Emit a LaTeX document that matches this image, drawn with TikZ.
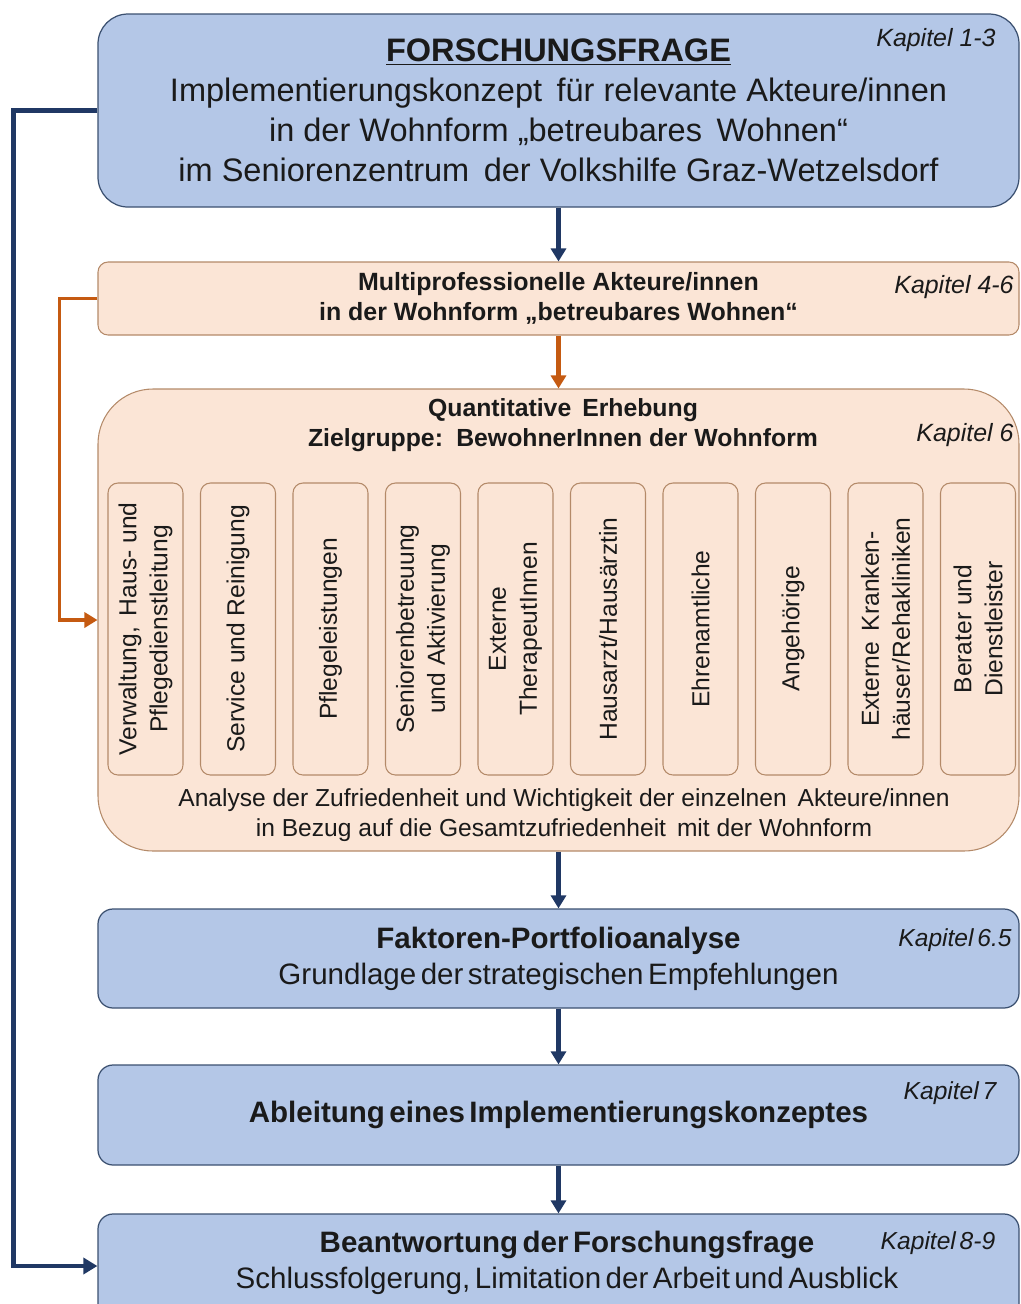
\documentclass[tikz,border=0pt]{standalone}
\usepackage{fontspec}
\setmainfont{Liberation Sans}
\newfontfamily\tightfont[WordSpace=0.55]{Liberation Sans}
\usetikzlibrary{arrows.meta,positioning}
\definecolor{boxblue}{HTML}{B4C7E7}
\definecolor{lineblue}{HTML}{3B5070}
\definecolor{navy}{HTML}{203864}
\definecolor{boxorange}{HTML}{FBE5D6}
\definecolor{lineorange}{HTML}{B48A69}
\definecolor{rust}{HTML}{C55A11}
\definecolor{ink}{HTML}{1A1A1A}

\begin{document}
\begin{tikzpicture}[
  bluebox/.style={draw=lineblue,fill=boxblue,line width=0.7pt,rounded corners=0.3cm,minimum width=18.42cm,text=ink,align=center},
  orangebox/.style={draw=lineorange,fill=boxorange,line width=0.6pt,minimum width=18.42cm,text=ink,align=center},
  akteur/.style={draw=lineorange,line width=0.6pt,rounded corners=0.2cm,rotate=90,minimum width=5.84cm,minimum height=1.5cm,text=ink,align=center,font=\fontsize{14}{17.6}\selectfont},
  kap/.style={text=ink,font=\fontsize{14.2}{16}\selectfont\itshape},
  kapn/.style={text=ink,font=\fontsize{14}{16}\selectfont\tightfont\itshape},
  flow/.style={navy,line width=2.3pt,-{Triangle[width=0.3cm,length=0.26cm]}}
]
  \useasboundingbox (0,0) rectangle (20.42,-26.08);
  \clip (0,0) rectangle (20.42,-26.08);

  % Forschungsfrage
  \node[bluebox,rounded corners=0.6cm,minimum height=3.86cm,font=\fontsize{18.5}{22.8}\selectfont] (frage) at (11.17,-2.21)
    {{\bfseries\underline{FORSCHUNGSFRAGE}}\\
     Implementierungskonzept\, für relevante Akteure/innen\\
     in der Wohnform „betreubares\, Wohnen“\\
     im Seniorenzentrum\, der Volkshilfe Graz-Wetzelsdorf};
  \node[kap] (k1) at (18.72,-0.80) {Kapitel 1-3};

  % Akteure
  \node[orangebox,rounded corners=0.2cm,minimum height=1.46cm,font=\fontsize{14.2}{17}\selectfont\bfseries] (akt) at (11.17,-5.97)
    {Multiprofessionelle Akteure/innen\\in der Wohnform „betreubares Wohnen“};
  \node[kap] (k2) at (19.08,-5.74) {Kapitel 4-6};

  % Erhebung mit Akteursgruppen
  \node[orangebox,rounded corners=1.1cm,minimum height=9.24cm] (erh) at (11.17,-12.40) {};
  \node[text=ink,align=center,font=\fontsize{14.1}{17}\selectfont\bfseries] (erhkopf) at (11.26,-8.50)
    {Quantitative\, Erhebung\\Zielgruppe:\, BewohnerInnen der Wohnform};
  \node[kap] (k3) at (19.30,-8.70) {Kapitel 6};
  \foreach \txt [count=\i from 0] in {{Verwaltung,\, Haus- und\\Pflegedienstleitung},{Service und Reinigung},
      Pflegeleistungen,{Seniorenbetreuung\\und Aktivierung},{Externe\\TherapeutInnen},Hausarzt/Hausärztin,
      Ehrenamtliche,Angehörige,{Externe\, Kranken-\\häuser/Rehakliniken},{Berater und\\Dienstleister}}
    \node[akteur] (a\i) at (2.91+1.85*\i,-12.58) {\txt};
  \node[text=ink,align=center,font=\fontsize{14}{17}\selectfont] (analyse) at (11.28,-16.30)
    {Analyse der Zufriedenheit und Wichtigkeit der einzelnen\, Akteure/innen\\
     in Bezug auf die Gesamtzufriedenheit\, mit der Wohnform};

  % Auswertung und Ergebnis
  \node[bluebox,minimum height=1.98cm,font=\fontsize{16.8}{20.5}\selectfont\tightfont] (port) at (11.17,-19.17)
    {{\bfseries Faktoren-Portfolioanalyse}\\Grundlage der strategischen Empfehlungen};
  \node[kapn] (k4) at (19.10,-18.80) {Kapitel 6.5};
  \node[bluebox,minimum height=2.0cm,font=\fontsize{16.8}{20.5}\selectfont\tightfont\bfseries] (abl) at (11.17,-22.30)
    {Ableitung eines Implementierungskonzeptes};
  \node[kapn] (k5) at (19.00,-21.86) {Kapitel 7};
  \node[bluebox,minimum height=2.08cm] (fin) at (11.17,-25.32) {};
  \node[text=ink,align=center,font=\fontsize{16.8}{20.5}\selectfont\tightfont] (fintxt) at (11.34,-25.26)
    {{\bfseries Beantwortung der Forschungsfrage}\\Schlussfolgerung, Limitation der Arbeit und Ausblick};
  \node[kapn] (k6) at (18.76,-24.86) {Kapitel 8-9};

  % Pfeile
  \draw[flow] (frage) -- (akt);
  \draw[rust,line width=2.3pt,-{Triangle[width=0.3cm,length=0.26cm]}] (akt) -- (erh.north -| akt);
  \draw[flow] (erh) -- (port);
  \draw[flow] (port) -- (abl);
  \draw[flow] (abl) -- (fin);

  % Rueckbezuege
  \draw[rust,line width=2.2pt,-{Triangle[width=0.3cm,length=0.26cm]}] (akt.west) -- ++(-0.76,0) |- (erh.west);
  \draw[navy,line width=2.6pt,-{Triangle[width=0.32cm,length=0.28cm]}] (frage.west) -- ++(-1.68,0) |- (fin.west);
\end{tikzpicture}
\end{document}
